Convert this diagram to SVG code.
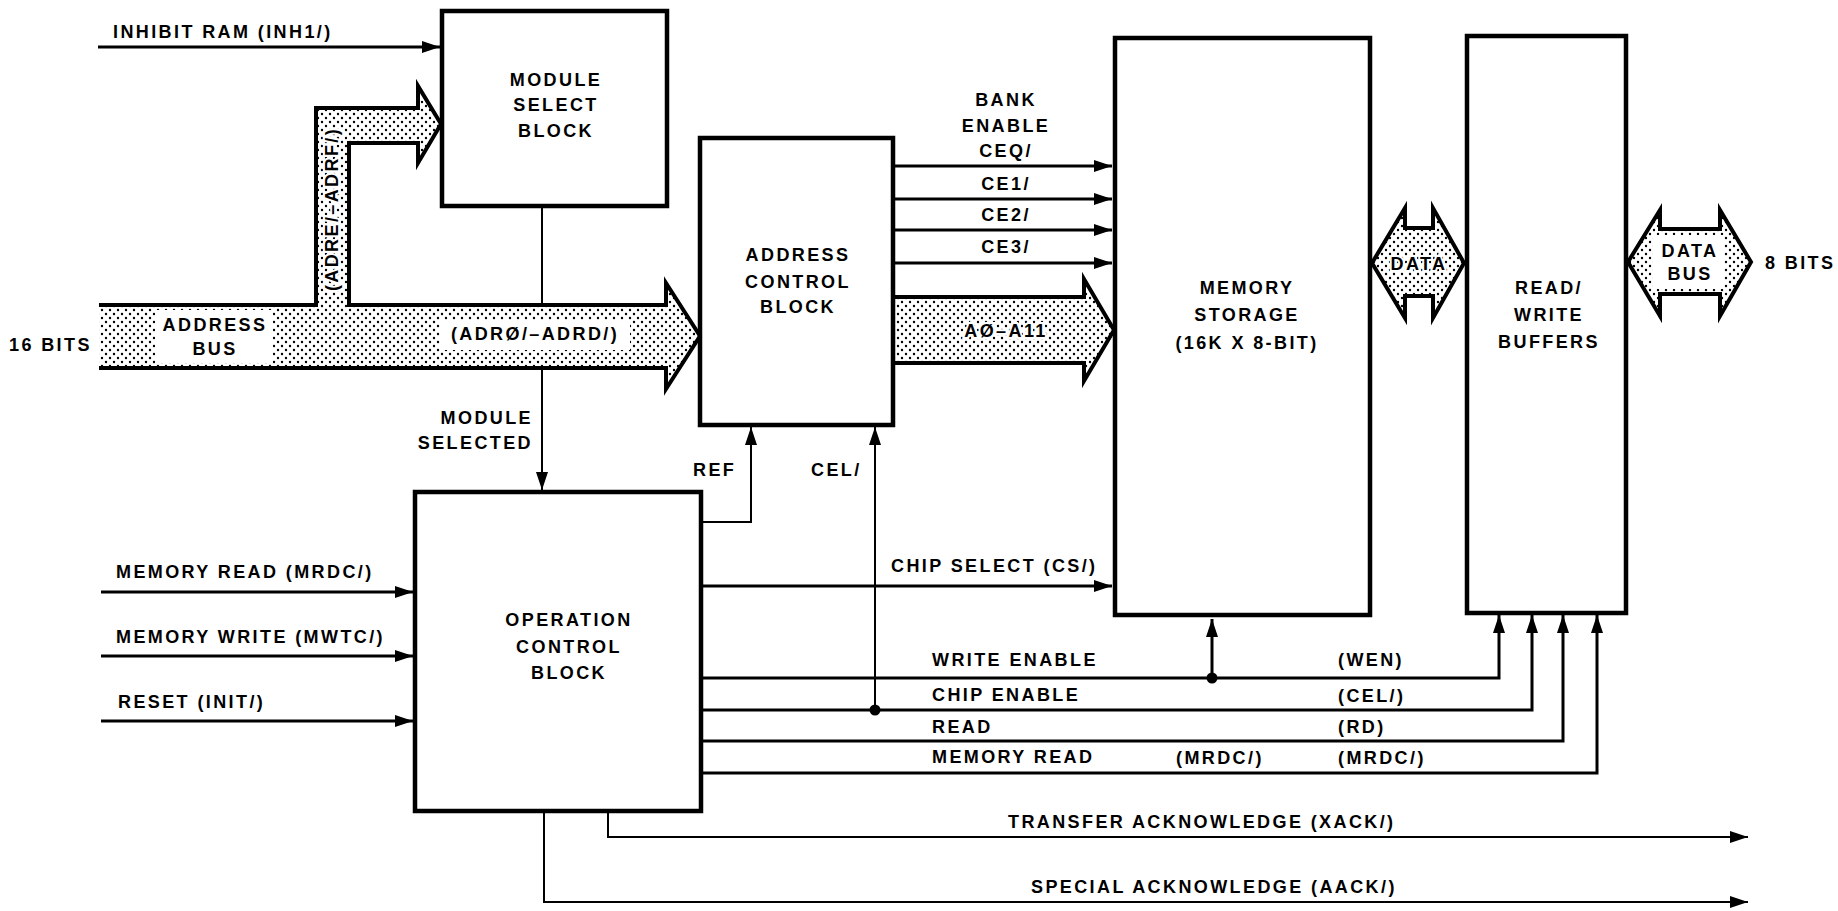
<svg xmlns="http://www.w3.org/2000/svg" width="1838" height="911" viewBox="0 0 1838 911">
<defs>
<pattern id="dots" width="8" height="8" patternUnits="userSpaceOnUse">
<rect width="8" height="8" fill="#fff"/>
<circle cx="2" cy="2" r="1.2" fill="#000"/>
<circle cx="6" cy="6" r="1.2" fill="#000"/>
</pattern>
<marker id="arr" markerUnits="userSpaceOnUse" markerWidth="18" markerHeight="12" refX="18" refY="6" orient="auto">
<path d="M0,0 L18,6 L0,12 z" fill="#000"/>
</marker>
<style>
.box{fill:#fff;stroke:#000;stroke-width:4.5}
.sig{fill:none;stroke:#000;stroke-width:3}
.thin{fill:none;stroke:#000;stroke-width:2}
.bus{fill:url(#dots);stroke:none}
.busline{fill:none;stroke:#000;stroke-width:4;stroke-linejoin:miter}
text{font-family:"Liberation Sans",Arial,sans-serif;font-weight:bold;font-size:18px;letter-spacing:2.4px;fill:#000}
.c{text-anchor:middle}
.e{text-anchor:end}
.halo{stroke:#fff;stroke-width:4;paint-order:stroke}
</style>
</defs>
<rect width="1838" height="911" fill="#fff"/>

<g id="connectors">
<!-- address bus -->
<path class="bus" d="M99,305 H316 V108 H418 V86 L441,124 L418,163 V143 H349 V305 H666 V283 L700,336 L666,389 V368 H99 Z"/>
<path class="busline" d="M99,305 H316 V108 H418 V86 L441,124 L418,163 V143 H349 V305 H666 V283 L700,336 L666,389 V368 H99"/>
<rect x="155" y="310" width="118" height="53" fill="#fff"/>
<rect x="440" y="320" width="190" height="30" fill="#fff"/>
<!-- A0-A11 bus -->
<path class="bus" d="M893,297 H1084 V279 L1114,330 L1084,381 V363 H893 Z"/>
<path class="busline" d="M893,297 H1084 V279 L1114,330 L1084,381 V363 H893"/>
<!-- DATA -->
<path class="bus" d="M1372,263 L1405,208 V228 H1433 V208 L1464,263 L1433,318 V296 H1405 V318 Z"/>
<path class="busline" d="M1372,263 L1405,208 V228 H1433 V208 L1464,263 L1433,318 V296 H1405 V318 Z"/>
<!-- DATA BUS -->
<path class="bus" d="M1628,262 L1660,210 V229 H1720 V210 L1751,262 L1720,316 V294 H1660 V316 Z"/>
<path class="busline" d="M1628,262 L1660,210 V229 H1720 V210 L1751,262 L1720,316 V294 H1660 V316 Z"/>
<rect x="1653" y="235" width="71" height="54" fill="#fff"/>

<!-- inputs -->
<line class="sig" x1="98" y1="47" x2="440" y2="47" marker-end="url(#arr)"/>
<line class="sig" x1="101" y1="592" x2="413" y2="592" marker-end="url(#arr)"/>
<line class="sig" x1="101" y1="656" x2="413" y2="656" marker-end="url(#arr)"/>
<line class="sig" x1="101" y1="721" x2="413" y2="721" marker-end="url(#arr)"/>
<!-- module selected -->
<line class="thin" x1="542" y1="207" x2="542" y2="305"/>
<line class="thin" x1="542" y1="368" x2="542" y2="490" marker-end="url(#arr)"/>
<!-- bank enables -->
<line class="sig" x1="893" y1="166" x2="1112" y2="166" marker-end="url(#arr)"/>
<line class="sig" x1="893" y1="199" x2="1112" y2="199" marker-end="url(#arr)"/>
<line class="sig" x1="893" y1="230" x2="1112" y2="230" marker-end="url(#arr)"/>
<line class="sig" x1="893" y1="263" x2="1112" y2="263" marker-end="url(#arr)"/>
<!-- REF -->
<polyline class="thin" points="701,522 751,522 751,427" marker-end="url(#arr)"/>
<!-- CEL/ -->
<line class="thin" x1="875" y1="710" x2="875" y2="427" marker-end="url(#arr)"/>
<!-- chip select -->
<line class="sig" x1="701" y1="586" x2="1112" y2="586" marker-end="url(#arr)"/>
<!-- write enable etc -->
<polyline class="sig" points="701,678 1499,678 1499,615" marker-end="url(#arr)"/>
<polyline class="sig" points="701,710 1532,710 1532,615" marker-end="url(#arr)"/>
<polyline class="sig" points="701,741 1563,741 1563,615" marker-end="url(#arr)"/>
<polyline class="sig" points="701,773 1597,773 1597,615" marker-end="url(#arr)"/>
<line class="sig" x1="1212" y1="678" x2="1212" y2="619" marker-end="url(#arr)"/>
<circle cx="1212" cy="678" r="5.5" fill="#000"/>
<circle cx="875" cy="710" r="5.5" fill="#000"/>
<!-- acknowledges -->
<polyline class="thin" points="608,811 608,837 1748,837" marker-end="url(#arr)"/>
<polyline class="thin" points="544,811 544,902 1748,902" marker-end="url(#arr)"/>

<!-- connector labels -->
<text x="113" y="38">INHIBIT RAM (INH1/)</text>
<text x="9" y="351">16 BITS</text>
<text class="c" x="215" y="331">ADDRESS</text>
<text class="c" x="215" y="355">BUS</text>
<text class="c" x="535" y="340">(ADRØ/–ADRD/)</text>
<text class="c halo" transform="translate(338,209) rotate(-90)">(ADRE/–ADRF/)</text>
<text class="e" x="533" y="424">MODULE</text>
<text class="e" x="533" y="449">SELECTED</text>
<text x="116" y="578">MEMORY READ (MRDC/)</text>
<text x="116" y="643">MEMORY WRITE (MWTC/)</text>
<text x="118" y="708">RESET (INIT/)</text>
<text x="693" y="476">REF</text>
<text x="811" y="476">CEL/</text>
<text class="c" x="1006" y="106">BANK</text>
<text class="c" x="1006" y="132">ENABLE</text>
<text class="c" x="1006" y="157">CEQ/</text>
<text class="c" x="1006" y="190">CE1/</text>
<text class="c" x="1006" y="221">CE2/</text>
<text class="c" x="1006" y="253">CE3/</text>
<text class="c halo" x="1006" y="337">AØ–A11</text>
<text class="c halo" x="1419" y="270">DATA</text>
<text class="c" x="1690" y="257">DATA</text>
<text class="c" x="1690" y="280">BUS</text>
<text x="1765" y="269">8 BITS</text>
<text x="891" y="572">CHIP SELECT (CS/)</text>
<text x="932" y="666">WRITE ENABLE</text>
<text x="932" y="701">CHIP ENABLE</text>
<text x="932" y="733">READ</text>
<text x="932" y="763">MEMORY READ</text>
<text x="1176" y="764">(MRDC/)</text>
<text x="1338" y="666">(WEN)</text>
<text x="1338" y="702">(CEL/)</text>
<text x="1338" y="733">(RD)</text>
<text x="1338" y="764">(MRDC/)</text>
<text x="1008" y="828">TRANSFER ACKNOWLEDGE (XACK/)</text>
<text x="1031" y="893">SPECIAL ACKNOWLEDGE (AACK/)</text>
</g>

<g id="module-select-block">
<rect class="box" x="442" y="11" width="225" height="195"/>
<text class="c" x="556" y="86">MODULE</text>
<text class="c" x="556" y="111">SELECT</text>
<text class="c" x="556" y="137">BLOCK</text>
</g>

<g id="address-control-block">
<rect class="box" x="700" y="138" width="193" height="287"/>
<text class="c" x="798" y="261">ADDRESS</text>
<text class="c" x="798" y="288">CONTROL</text>
<text class="c" x="798" y="313">BLOCK</text>
</g>

<g id="operation-control-block">
<rect class="box" x="415" y="492" width="286" height="319"/>
<text class="c" x="569" y="626">OPERATION</text>
<text class="c" x="569" y="653">CONTROL</text>
<text class="c" x="569" y="679">BLOCK</text>
</g>

<g id="memory-storage">
<rect class="box" x="1115" y="38" width="255" height="577"/>
<text class="c" x="1247" y="294">MEMORY</text>
<text class="c" x="1247" y="321">STORAGE</text>
<text class="c" x="1247" y="349">(16K X 8-BIT)</text>
</g>

<g id="read-write-buffers">
<rect class="box" x="1467" y="36" width="159" height="577"/>
<text class="c" x="1549" y="294">READ/</text>
<text class="c" x="1549" y="321">WRITE</text>
<text class="c" x="1549" y="348">BUFFERS</text>
</g>
</svg>
